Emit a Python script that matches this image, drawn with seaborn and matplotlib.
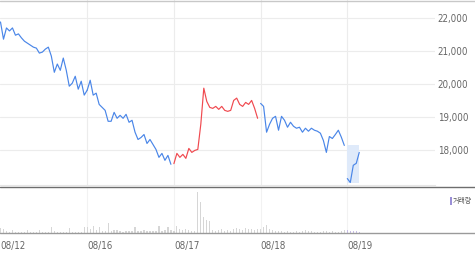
import numpy as np
import pandas as pd
import matplotlib
matplotlib.use("Agg")
import matplotlib.pyplot as plt
import seaborn as sns
from matplotlib.lines import Line2D
from matplotlib.patches import Rectangle

# ---------------- data ----------------
dates = ["08/12", "08/16", "08/17", "08/18", "08/19"]
y_ticks = [18000, 19000, 20000, 21000, 22000]

p_0812 = [21880, 21360, 21700, 21610, 21700, 21480, 21520, 21400, 21300, 21240,
          21180, 21120, 21090, 20940, 20970, 21060, 21120, 20850, 20360, 20610,
          20420, 20790, 20420, 19940, 20030, 20240, 19850, 20090, 19670]
p_0816 = [19820, 20120, 19670, 19730, 19390, 19300, 19210, 18880, 18880, 19150,
          18970, 19060, 18970, 19090, 18850, 18910, 18550, 18330, 18390, 18480,
          18210, 18330, 18180, 18030, 17790, 17910, 17700, 17850, 17580]
p_0817 = [17600, 17910, 17790, 17880, 17760, 18060, 17940, 18000, 18030, 18790,
          19880, 19480, 19300, 19270, 19330, 19240, 19330, 19210, 19180, 19210,
          19510, 19580, 19390, 19330, 19450, 19390, 19510, 19270, 18970]
p_0818 = [19420, 19330, 18550, 18790, 18970, 19030, 18610, 19030, 18910, 18700,
          18850, 18730, 18670, 18700, 18550, 18670, 18580, 18670, 18610, 18580,
          18520, 18300, 17940, 18420, 18360, 18480, 18610, 18400, 18150]
p_0819 = [17150, 17030, 17550, 17610, 17940]

v_0812 = [11, 9, 4, 2, 7, 2, 2, 2, 3, 7, 2, 2, 2, 6, 2, 2, 3, 13, 4, 2,
          2, 2, 3, 11, 3, 2, 2, 3, 13]
v_0816 = [13, 9, 15, 7, 13, 4, 4, 22, 4, 7, 7, 4, 2, 4, 4, 4, 13, 4, 4, 7,
          4, 4, 4, 4, 15, 4, 7, 13, 7]
v_0817 = [4, 15, 9, 7, 9, 7, 4, 4, 92, 69, 36, 29, 27, 7, 4, 7, 9, 4, 7, 4,
          9, 11, 9, 7, 11, 9, 9, 7, 9]
v_0818 = [9, 13, 18, 9, 7, 4, 4, 4, 2, 4, 2, 2, 4, 2, 4, 7, 4, 4, 2, 2,
          2, 4, 4, 2, 4, 2, 2, 4, 7]
v_0819 = [7, 4, 4, 4, 2]

prices = [p_0812, p_0816, p_0817, p_0818, p_0819]
volumes = [v_0812, v_0816, v_0817, v_0818, v_0819]
PTS_PER_DAY = 29

# ---------------- style ----------------
sns.set_theme(style="white")
plt.rcParams["font.family"] = ["DejaVu Sans", "Noto Sans CJK KR"]

BLUE = "#4a86e8"
RED = "#f0494f"
GRID = "#ececec"
TXT = "#666666"

W, H = 475, 256
fig = plt.figure(figsize=(W / 100, H / 100), dpi=100)
fig.patch.set_facecolor("white")

ax = fig.add_axes([0, 1 - 185 / H, 435 / W, 185 / H])
axv = fig.add_axes([0, 1 - 233 / H, 435 / W, 45 / H])

a_px, b_px = 0.5, 86.7
xlim = (-a_px / b_px, (435 - a_px) / b_px)

# build times and colours
times = []
for d, p in enumerate(prices):
    times.append(d + np.arange(len(p)) / PTS_PER_DAY)

colors = []
for d, p in enumerate(prices):
    if d > 0 and p[-1] > prices[d - 1][-1]:
        colors.append(RED)
    else:
        colors.append(BLUE)

# shaded current-day band
last = len(prices) - 1
ax.fill_between(times[last], min(prices[last]), prices[last - 1][-1],
                color="#dfeafa", lw=0, zorder=1)

for d in range(len(prices)):
    t = list(times[d])
    p = list(prices[d])
    if d + 1 < last and colors[d + 1] == colors[d]:
        t.append(times[d + 1][0])
        p.append(prices[d + 1][0])
    df = pd.DataFrame({"t": t, "p": p})
    sns.lineplot(data=df, x="t", y="p", ax=ax, color=colors[d], lw=0.85,
                 sort=False, estimator=None, zorder=3)

ax.set_xlim(*xlim)
ax.set_ylim(16955, 22544)
ax.set_xticks([1, 2, 3, 4])
ax.set_xticklabels([])
ax.yaxis.tick_right()
ax.set_yticks(y_ticks)
ax.set_yticklabels([f"{v:,}" for v in y_ticks])
ax.tick_params(axis="y", length=0, pad=2, labelsize=7, labelcolor=TXT)
ax.tick_params(axis="x", length=0)
for lab in ax.get_yticklabels():
    lab.set_fontstretch("condensed")
ax.grid(True, color=GRID, lw=0.8)
ax.set_xlabel("")
ax.set_ylabel("")
for s in ["top", "left", "right"]:
    ax.spines[s].set_visible(False)
ax.spines["bottom"].set_color("#e6e6e6")
ax.spines["bottom"].set_linewidth(0.8)
ax.set_facecolor("white")

# volume panel
for d in range(len(volumes)):
    col = "#c8bde8" if d == last else "#d6d6d6"
    axv.bar(times[d], volumes[d], width=0.014, color=col, lw=0)
axv.set_xlim(*xlim)
axv.set_ylim(0, 100)
axv.set_yticks([])
axv.set_xticks(range(len(dates)))
axv.set_xticklabels(dates, ha="left")
axv.tick_params(axis="x", direction="inout", length=4, width=0.6, color="#aaaaaa",
                pad=4, labelsize=7, labelcolor=TXT)
for lab in axv.get_xticklabels():
    lab.set_fontstretch("condensed")
for s in axv.spines.values():
    s.set_visible(False)
for d in range(1, len(dates)):
    axv.axvline(d, color="#f2f2f2", lw=0.8, zorder=0)
axv.set_facecolor("white")

# full-width frame lines
def hline(ypx, color, lw=1.0):
    y = 1 - ypx / H
    fig.add_artist(Line2D([0, 1], [y, y], transform=fig.transFigure,
                          color=color, lw=lw))

hline(0.5, "#c8c8c8")
hline(187, "#6e6e6e")
hline(233, "#9a9a9a")

# legend: 거래량
fig.add_artist(Rectangle((450 / W, 1 - 205 / H), 2 / W, 8 / H,
                         transform=fig.transFigure, color="#9a8fd6", lw=0))
fig.text(453 / W, 1 - 201 / H, "거래량", fontsize=5,
         family=["Noto Sans CJK KR", "DejaVu Sans"], color="#555555",
         va="center", ha="left")

fig.savefig("out.png", dpi=100)
